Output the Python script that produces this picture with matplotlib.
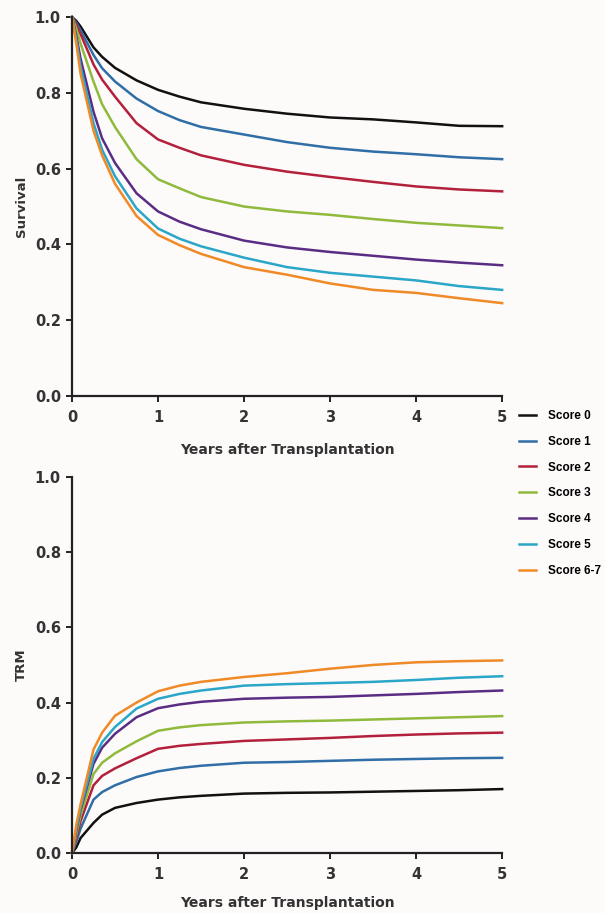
import matplotlib
matplotlib.use("Agg")
import matplotlib.pyplot as plt

years = [0, 0.05, 0.1, 0.25, 0.35, 0.5, 0.75, 1, 1.25, 1.5, 2, 2.5, 3, 3.5, 4, 4.5, 5]
labels = ["Score 0", "Score 1", "Score 2", "Score 3", "Score 4", "Score 5", "Score 6-7"]
colors = ["#111111", "#2f6ea6", "#b3203c", "#8fba3c", "#5a2d84", "#2aa6c8", "#f08a26"]

survival_0 = [1.0, 0.99, 0.975, 0.92, 0.895, 0.866, 0.833, 0.808, 0.79, 0.775, 0.758, 0.745, 0.735, 0.73, 0.722, 0.713, 0.712]
survival_1 = [1.0, 0.985, 0.965, 0.90, 0.865, 0.83, 0.785, 0.752, 0.728, 0.71, 0.69, 0.67, 0.655, 0.645, 0.638, 0.63, 0.625]
survival_2 = [1.0, 0.98, 0.955, 0.875, 0.835, 0.79, 0.72, 0.677, 0.655, 0.635, 0.61, 0.592, 0.578, 0.565, 0.553, 0.545, 0.54]
survival_3 = [1.0, 0.97, 0.93, 0.83, 0.77, 0.71, 0.625, 0.572, 0.548, 0.525, 0.5, 0.487, 0.478, 0.467, 0.457, 0.45, 0.443]
survival_4 = [1.0, 0.95, 0.89, 0.75, 0.68, 0.615, 0.535, 0.487, 0.46, 0.44, 0.41, 0.392, 0.38, 0.37, 0.36, 0.352, 0.345]
survival_5 = [1.0, 0.94, 0.87, 0.72, 0.65, 0.58, 0.495, 0.442, 0.415, 0.395, 0.365, 0.34, 0.325, 0.315, 0.305, 0.29, 0.28]
survival_67 = [1.0, 0.93, 0.85, 0.70, 0.635, 0.56, 0.475, 0.425, 0.398, 0.375, 0.34, 0.32, 0.297, 0.28, 0.272, 0.258, 0.245]

trm_0 = [0, 0.015, 0.04, 0.08, 0.102, 0.12, 0.133, 0.142, 0.148, 0.152, 0.158, 0.16, 0.161, 0.163, 0.165, 0.167, 0.17]
trm_1 = [0, 0.03, 0.065, 0.142, 0.162, 0.18, 0.202, 0.217, 0.226, 0.232, 0.24, 0.242, 0.245, 0.248, 0.25, 0.252, 0.253]
trm_2 = [0, 0.04, 0.085, 0.18, 0.205, 0.225, 0.252, 0.277, 0.285, 0.29, 0.298, 0.302, 0.306, 0.311, 0.315, 0.318, 0.32]
trm_3 = [0, 0.05, 0.10, 0.21, 0.24, 0.265, 0.297, 0.325, 0.334, 0.34, 0.347, 0.35, 0.352, 0.355, 0.358, 0.361, 0.364]
trm_4 = [0, 0.06, 0.115, 0.237, 0.28, 0.317, 0.361, 0.385, 0.395, 0.402, 0.41, 0.413, 0.415, 0.419, 0.423, 0.428, 0.432]
trm_5 = [0, 0.065, 0.12, 0.25, 0.295, 0.335, 0.384, 0.41, 0.423, 0.432, 0.445, 0.449, 0.452, 0.455, 0.46, 0.466, 0.47]
trm_67 = [0, 0.075, 0.13, 0.275, 0.32, 0.365, 0.4, 0.43, 0.445, 0.455, 0.468, 0.478, 0.49, 0.5, 0.507, 0.51, 0.512]

survival = [survival_0, survival_1, survival_2, survival_3, survival_4, survival_5, survival_67]
trm = [trm_0, trm_1, trm_2, trm_3, trm_4, trm_5, trm_67]

xticks = [0, 1, 2, 3, 4, 5]
yticks = [0.0, 0.2, 0.4, 0.6, 0.8, 1.0]
ytick_labels = ["0.0", "0.2", "0.4", "0.6", "0.8", "1.0"]

TICKFONT = ["DejaVu Sans"]
LABFONT = ["DejaVu Sans"]
LEGFONT = ["Liberation Sans", "DejaVu Sans"]
bg = "#fdfafa"
txt = "#333333"

fig = plt.figure(figsize=(6.05, 9.13), dpi=100, facecolor=bg)
ax1 = fig.add_axes([0.119, 0.5663, 0.711, 0.415])
ax2 = fig.add_axes([0.119, 0.0657, 0.711, 0.412])

def style(ax, ylabel, xlabelpad):
    ax.set_facecolor(bg)
    ax.set_xlim(0, 5)
    ax.set_ylim(0, 1.0)
    ax.set_xticks(xticks)
    ax.set_xticklabels([str(v) for v in xticks], fontfamily=TICKFONT, fontweight="bold", fontsize=10.5, color=txt)
    ax.set_yticks(yticks)
    ax.set_yticklabels(ytick_labels, fontfamily=TICKFONT, fontweight="bold", fontsize=10.5, color=txt)
    for s in ["top", "right"]:
        ax.spines[s].set_visible(False)
    for s in ["left", "bottom"]:
        ax.spines[s].set_linewidth(1.6)
        ax.spines[s].set_color("#222222")
    ax.tick_params(direction="out", length=4, width=1.4, colors="#222222")
    ax.tick_params(axis="x", pad=6)
    ax.tick_params(axis="y", pad=4)
    ax.tick_params(labelcolor=txt)
    ax.set_xlabel("Years after Transplantation", fontfamily=LABFONT, fontweight="bold", fontsize=10, color=txt, labelpad=xlabelpad)
    ax.set_ylabel(ylabel, fontfamily=LABFONT, fontweight="bold", fontsize=9.5, color=txt, labelpad=5)

lines = []
for vals, c, lab in zip(survival, colors, labels):
    ln, = ax1.plot(years, vals, color=c, lw=1.8, label=lab, clip_on=False, solid_joinstyle="round")
    lines.append(ln)
for vals, c, lab in zip(trm, colors, labels):
    ax2.plot(years, vals, color=c, lw=1.8, clip_on=False, solid_joinstyle="round")

style(ax1, "Survival", 13)
style(ax2, "TRM", 10)

fig.legend(handles=lines, labels=labels, loc="upper left", bbox_to_anchor=(0.858, 0.551),
           frameon=False, prop={"family": LEGFONT, "weight": "bold", "size": 8.5},
           handlelength=1.45, handletextpad=1.0, labelspacing=1.17, borderpad=0, borderaxespad=0)

fig.savefig("out.png", dpi=100, facecolor=bg)
